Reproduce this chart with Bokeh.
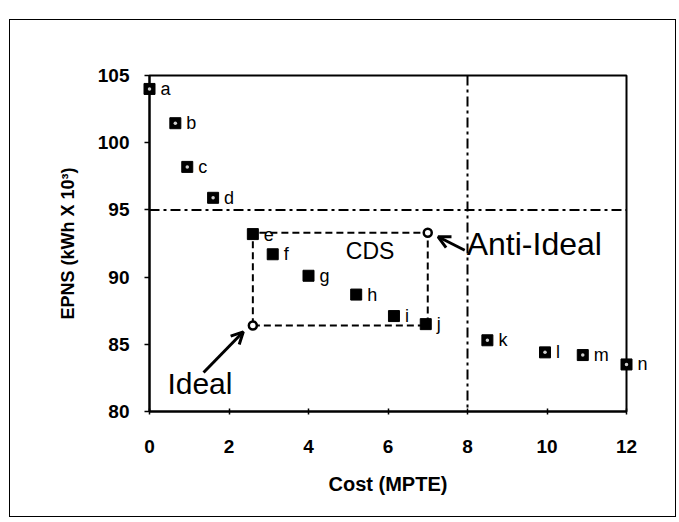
from bokeh.plotting import figure
from bokeh.models import (ColumnDataSource, Range1d, FixedTicker, Span, Arrow, OpenHead,
                          Label)
from bokeh.core.properties import value
from bokeh.embed import file_html
from bokeh.resources import INLINE

# ---- data ----
labels = list("abcdefghijklmn")
cost = [0.0, 0.65, 0.95, 1.6, 2.6, 3.1, 4.0, 5.2, 6.15, 6.95, 8.5, 9.95, 10.9, 12.0]
epns = [104.0, 101.45, 98.2, 95.9, 93.2, 91.7, 90.1, 88.7, 87.1, 86.5, 85.3, 84.4, 84.2, 83.5]
in_cds = [False, False, False, False, True, True, True, True, True, True, False, False, False, False]

ideal = (2.6, 86.4)
anti_ideal = (7.0, 93.3)
epns_limit = 95
cost_limit = 8

x_ticks = [0, 2, 4, 6, 8, 10, 12]
y_ticks = [80, 85, 90, 95, 100, 105]

FONT = "Liberation Sans"

p = figure(width=667, height=498, output_backend="svg", toolbar_location=None,
           x_range=Range1d(0, 12), y_range=Range1d(80, 105),
           min_border_left=139, min_border_right=51, min_border_top=55, min_border_bottom=107)
p.margin = (19, 0, 0, 9)
p.styles = {"border": "1.5px solid black"}
p.background_fill_color = "white"
p.border_fill_color = "white"
p.outline_line_color = "black"
p.outline_line_width = 2
p.xgrid.visible = False
p.ygrid.visible = False

# axes
p.xaxis.ticker = FixedTicker(ticks=x_ticks)
p.yaxis.ticker = FixedTicker(ticks=y_ticks)
for ax in (p.xaxis[0], p.yaxis[0]):
    ax.axis_line_width = 2
    ax.axis_line_color = "black"
    ax.major_tick_line_width = 1.5
    ax.minor_tick_line_color = None
    ax.major_label_text_font = FONT
    ax.major_label_text_font_style = "bold"
    ax.major_label_text_font_size = "19px"
    ax.major_label_text_color = "black"
    ax.axis_label_text_font = FONT
    ax.axis_label_text_font_style = "bold"
    ax.axis_label_text_color = "black"
p.xaxis.major_tick_in = 3
p.xaxis.major_tick_out = 3
p.yaxis.major_tick_in = 0
p.yaxis.major_tick_out = 5
p.xaxis.major_label_standoff = 25
p.yaxis.major_label_standoff = 15
p.xaxis.axis_label = "Cost (MPTE)"
p.yaxis.axis_label = "EPNS (kWh X 10³)"
p.xaxis.axis_label_text_font_size = "20px"
p.yaxis.axis_label_text_font_size = "18px"
p.xaxis.axis_label_standoff = 17
p.yaxis.axis_label_standoff = 17

# reference lines
dd = "10 4 3 4"
p.add_layout(Span(location=epns_limit, dimension="width", line_color="black",
                  line_width=2, line_dash=dd))
p.add_layout(Span(location=cost_limit, dimension="height", line_color="black",
                  line_width=2, line_dash=dd))

# CDS rectangle
rx = [ideal[0], anti_ideal[0], anti_ideal[0], ideal[0], ideal[0]]
ry = [ideal[1], ideal[1], anti_ideal[1], anti_ideal[1], ideal[1]]
p.line(rx, ry, line_color="black", line_width=2, line_dash="7 4")

# points
src_out = ColumnDataSource(dict(
    x=[c for c, f in zip(cost, in_cds) if not f],
    y=[e for e, f in zip(epns, in_cds) if not f]))
src_in = ColumnDataSource(dict(
    x=[c for c, f in zip(cost, in_cds) if f],
    y=[e for e, f in zip(epns, in_cds) if f]))
p.scatter("x", "y", source=src_out, marker="square", size=11, fill_color="black",
          line_color="black", level="overlay")
p.scatter("x", "y", source=src_out, marker="circle", size=3.5, fill_color="#d0d0d0",
          line_color=None, level="overlay")
p.scatter("x", "y", source=src_in, marker="square", size=11, fill_color="black",
          line_color="black", level="overlay")

# ideal / anti-ideal points
p.scatter([ideal[0], anti_ideal[0]], [ideal[1], anti_ideal[1]], marker="circle", size=8,
          fill_color="white", line_color="black", line_width=2.5)

# point labels
lab_src = ColumnDataSource(dict(x=cost, y=epns, t=labels))
p.text(x="x", y="y", text="t", source=lab_src, x_offset=11, y_offset=0,
       text_baseline="middle", text_font=value(FONT), text_font_size="18px",
       text_color="black", level="overlay")

# annotations
p.add_layout(Label(x=5.55, y=91.95, text="CDS", text_align="center", text_baseline="middle",
                   text_font=FONT, text_font_size="23px", text_color="black"))
p.add_layout(Label(x=0.45, y=82.05, text="Ideal", text_align="left",
                   text_baseline="alphabetic",
                   text_font=FONT, text_font_size="30px", text_color="black"))
p.add_layout(Label(x=7.98, y=92.45, text="Anti-Ideal", text_align="left",
                   text_baseline="alphabetic",
                   text_font=FONT, text_font_size="32px", text_color="black"))
p.add_layout(Arrow(end=OpenHead(size=12, line_width=3, line_color="black"),
                   x_start=ideal[0] - 1.24, y_start=ideal[1] - 3.5,
                   x_end=ideal[0] - 0.24, y_end=ideal[1] - 0.47,
                   line_width=3, line_color="black"))
p.add_layout(Arrow(end=OpenHead(size=12, line_width=3, line_color="black"),
                   x_start=anti_ideal[0] + 0.93, y_start=anti_ideal[1] - 1.3,
                   x_end=anti_ideal[0] + 0.26, y_end=anti_ideal[1] - 0.3,
                   line_width=3, line_color="black"))

open("out.html", "w").write(file_html(p, INLINE))
